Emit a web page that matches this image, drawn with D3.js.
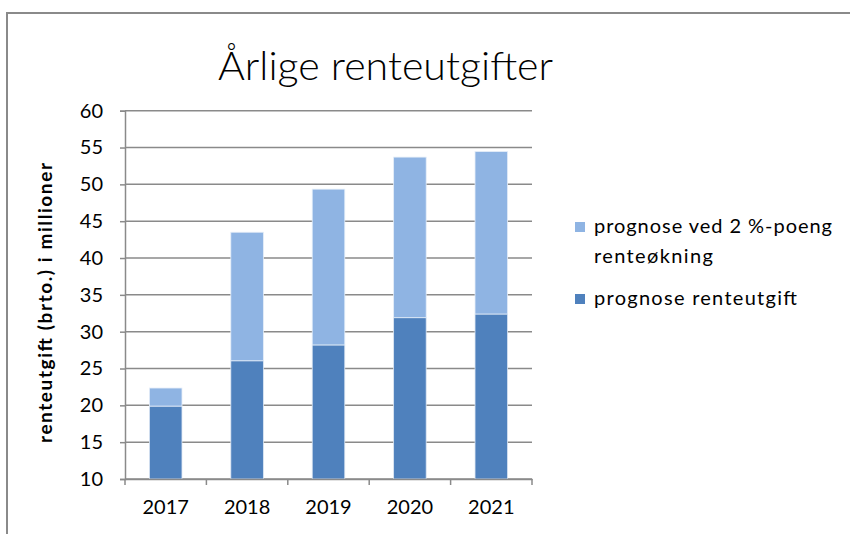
<!DOCTYPE html>
<html>
<head>
<meta charset="utf-8">
<script src="https://cdn.jsdelivr.net/npm/d3@7"></script>
<style>
  html, body { margin: 0; padding: 0; background: #fff; }
  svg { display: block; }
  text { font-family: Lato, "Open Sans", sans-serif; }
</style>
</head>
<body>
<svg id="chart" width="850" height="534"></svg>
<script>
// Annual interest expense forecast, in millions
const years = ["2017", "2018", "2019", "2020", "2021"];
const baseForecast = [19.9, 26.05, 28.2, 31.9, 32.4];          // prognose renteutgift
const rateIncrease = [2.45, 17.45, 21.15, 21.8, 22.05];        // ekstra ved 2 %-poeng renteøkning
const yTicks = [10, 15, 20, 25, 30, 35, 40, 45, 50, 55, 60];

const colors = { base: "#4F81BD", increase: "#8FB4E3" };

const svg = d3.select("#chart");

// Outer chart frame
svg.append("path")
  .attr("d", "M7,534 V13 H850")
  .attr("fill", "none")
  .attr("stroke", "#8a8a8a")
  .attr("stroke-width", 2);

// Title
svg.append("text")
  .attr("x", 218)
  .attr("y", 80)
  .attr("font-size", 40)
  .attr("font-weight", 300)
  .attr("textLength", 335)
  .attr("lengthAdjust", "spacingAndGlyphs")
  .attr("fill", "#000")
  .text("Årlige renteutgifter");

const plot = { left: 125, right: 532, top: 110.7, bottom: 479 };

const x = d3.scaleBand()
  .domain(years)
  .range([plot.left, plot.right])
  .paddingInner(0.6)
  .paddingOuter(0.3);

const y = d3.scaleLinear()
  .domain([10, 60])
  .range([plot.bottom, plot.top]);

// Horizontal gridlines
svg.append("g")
  .selectAll("line")
  .data(yTicks)
  .join("line")
  .attr("x1", plot.left)
  .attr("x2", plot.right)
  .attr("y1", d => y(d))
  .attr("y2", d => y(d))
  .attr("stroke", "#8a8a8a")
  .attr("stroke-width", 1.5);

// Stacked bars
const rows = years.map((yr, i) => ({
  year: yr,
  base: baseForecast[i],
  total: baseForecast[i] + rateIncrease[i]
}));

const bars = svg.append("g");
bars.selectAll("rect.base")
  .data(rows)
  .join("rect")
  .attr("class", "base")
  .attr("x", d => x(d.year))
  .attr("width", x.bandwidth())
  .attr("y", d => y(d.base))
  .attr("height", d => y(y.domain()[0]) - y(d.base))
  .attr("fill", colors.base)
  .attr("stroke", "#dde7f3")
  .attr("stroke-width", 0.8);

bars.selectAll("rect.increase")
  .data(rows)
  .join("rect")
  .attr("class", "increase")
  .attr("x", d => x(d.year))
  .attr("width", x.bandwidth())
  .attr("y", d => y(d.total))
  .attr("height", d => y(d.base) - y(d.total))
  .attr("fill", colors.increase)
  .attr("stroke", "#e4edf8")
  .attr("stroke-width", 0.8);

// Y axis
const yAxis = svg.append("g")
  .attr("transform", `translate(${plot.left},0)`)
  .call(d3.axisLeft(y).tickValues(yTicks).tickSize(5).tickPadding(17).tickFormat(d3.format("d")));
yAxis.select(".domain").attr("stroke", "#8a8a8a").attr("stroke-width", 1.5);
yAxis.selectAll(".tick line").attr("stroke", "#8a8a8a").attr("stroke-width", 1.5);
yAxis.selectAll(".tick text")
  .attr("font-size", 20)
  .attr("font-family", "Lato, sans-serif")
  .attr("fill", "#000");

// X axis
const xAxis = svg.append("g")
  .attr("transform", `translate(0,${plot.bottom})`)
  .call(d3.axisBottom(x).tickSize(0).tickPadding(21));
xAxis.select(".domain").attr("stroke", "#8a8a8a").attr("stroke-width", 1.5);
xAxis.selectAll(".tick text")
  .attr("font-size", 20)
  .attr("font-family", "Lato, sans-serif")
  .attr("fill", "#000");

// Category separator ticks on the x axis
const sepX = d3.range(years.length + 1).map(i => plot.left + i * (plot.right - plot.left) / years.length);
svg.append("g")
  .selectAll("line")
  .data(sepX)
  .join("line")
  .attr("x1", d => d)
  .attr("x2", d => d)
  .attr("y1", plot.bottom)
  .attr("y2", plot.bottom + 6)
  .attr("stroke", "#8a8a8a")
  .attr("stroke-width", 1.5);

// Y axis title
svg.append("text")
  .attr("transform", "translate(52,303) rotate(-90)")
  .attr("text-anchor", "middle")
  .attr("font-size", 19)
  .attr("font-weight", "bold")
  .attr("textLength", 280)
  .attr("lengthAdjust", "spacing")
  .attr("fill", "#000")
  .text("renteutgift (brto.) i millioner");

// Legend
const legend = svg.append("g");
const legendItems = [
  { lines: [["prognose ved 2 %-poeng", 238], ["renteøkning", 119]], color: colors.increase, y: 233 },
  { lines: [["prognose renteutgift", 203]], color: colors.base, y: 305 }
];
legendItems.forEach(it => {
  legend.append("rect")
    .attr("x", 575)
    .attr("y", it.y - 11)
    .attr("width", 10)
    .attr("height", 10)
    .attr("fill", it.color);
  it.lines.forEach(([ln, len], j) => {
    legend.append("text")
      .attr("x", 594)
      .attr("y", it.y + j * 30)
      .attr("font-size", 20)
      .attr("textLength", len)
      .attr("lengthAdjust", "spacing")
      .attr("fill", "#000")
      .text(ln);
  });
});
</script>
</body>
</html>
